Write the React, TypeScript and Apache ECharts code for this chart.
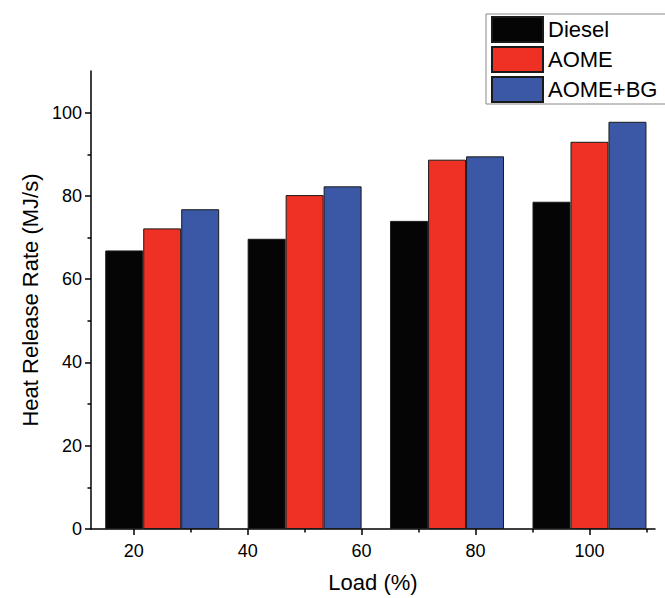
import React, { useEffect, useRef } from "react";
import * as echarts from "echarts";

// Engine load (%) for each bar group
const loads = [25, 50, 75, 100];

// Heat release rate (MJ/s) per fuel
const diesel = [66.9, 69.7, 74.0, 78.6];
const aome = [72.2, 80.2, 88.7, 93.0];
const aomeBg = [76.8, 82.3, 89.5, 97.8];

const seriesNames = ["Diesel", "AOME", "AOME+BG"];
const seriesColors = ["#050505", "#ee3124", "#3b58a6"];

// Tick positions
const xMajorTicks = [20, 40, 60, 80, 100];
const xMinorTicks = [30, 50, 70, 90, 110];
const yMajorTicks = [0, 20, 40, 60, 80, 100];
const yMinorTicks = [10, 30, 50, 70, 90];

const FONT = "'Liberation Sans', Arial, sans-serif";

export default function App() {
  const ref = useRef<HTMLDivElement>(null);

  useEffect(() => {
    if (!ref.current) return;
    const chart = echarts.init(ref.current, null, { renderer: "svg" });

    const xMin = 12.5;
    const xMax = 111.5;
    const yMin = 0;
    const yMax = 110;

    const values = [diesel, aome, aomeBg];

    chart.setOption({
      animation: false,
      backgroundColor: "#ffffff",
      textStyle: { fontFamily: FONT },
      grid: { left: 91, right: 10, top: 71, bottom: 68.5 },
      legend: {
        orient: "vertical",
        left: 486,
        top: 14,
        padding: [2, 40, 1, 5],
        itemWidth: 51,
        itemHeight: 25,
        itemGap: 3,
        borderColor: "#888888",
        borderWidth: 1,
        icon: "rect",
        textStyle: { color: "#000", fontSize: 22, fontFamily: FONT },
        data: seriesNames,
      },
      xAxis: [
        {
          type: "value",
          position: "bottom",
          min: xMin,
          max: xMax,
          name: "Load (%)",
          nameLocation: "middle",
          nameGap: 42,
          nameTextStyle: { color: "#000", fontSize: 22, fontFamily: FONT },
          axisLine: { onZero: false, lineStyle: { color: "#000", width: 1.5 } },
          axisTick: {
            customValues: xMajorTicks,
            inside: false,
            length: 6,
            lineStyle: { color: "#000", width: 1.5 },
          },
          axisLabel: {
            customValues: xMajorTicks,
            color: "#000",
            fontSize: 18,
            margin: 13,
            fontFamily: FONT,
          },
          splitLine: { show: false },
        },
        {
          type: "value",
          position: "bottom",
          min: xMin,
          max: xMax,
          axisLine: { show: false, onZero: false },
          axisTick: {
            customValues: xMinorTicks,
            inside: false,
            length: 3.5,
            lineStyle: { color: "#000", width: 1.5 },
          },
          axisLabel: { show: false },
          splitLine: { show: false },
        },
      ],
      yAxis: [
        {
          type: "value",
          position: "left",
          min: yMin,
          max: yMax,
          name: "Heat Release Rate (MJ/s)",
          nameLocation: "middle",
          nameGap: 46,
          nameTextStyle: { color: "#000", fontSize: 22, fontFamily: FONT },
          axisLine: { show: true, onZero: false, lineStyle: { color: "#000", width: 1.5 } },
          axisTick: {
            show: true,
            customValues: yMajorTicks,
            inside: false,
            length: 6,
            lineStyle: { color: "#000", width: 1.5 },
          },
          axisLabel: {
            customValues: yMajorTicks,
            color: "#000",
            fontSize: 18,
            margin: 9,
            fontFamily: FONT,
          },
          splitLine: { show: false },
        },
        {
          type: "value",
          position: "left",
          min: yMin,
          max: yMax,
          axisLine: { show: false, onZero: false },
          axisTick: {
            show: true,
            customValues: yMinorTicks,
            inside: false,
            length: 3.5,
            lineStyle: { color: "#000", width: 1.5 },
          },
          axisLabel: { show: false },
          splitLine: { show: false },
        },
      ],
      series: seriesNames.map((name, i) => ({
        name,
        type: "bar",
        xAxisIndex: 0,
        yAxisIndex: 0,
        barGap: "0%",
        barCategoryGap: "20%",
        itemStyle: {
          color: seriesColors[i],
          borderColor: "#1a1a1a",
          borderWidth: 1,
        },
        data: loads.map((x, j) => [x, values[i][j]]),
      })),
    });

    return () => chart.dispose();
  }, []);

  return (
    <div
      ref={ref}
      style={{ position: "fixed", left: 0, top: 0, width: 665, height: 598 }}
    />
  );
}
